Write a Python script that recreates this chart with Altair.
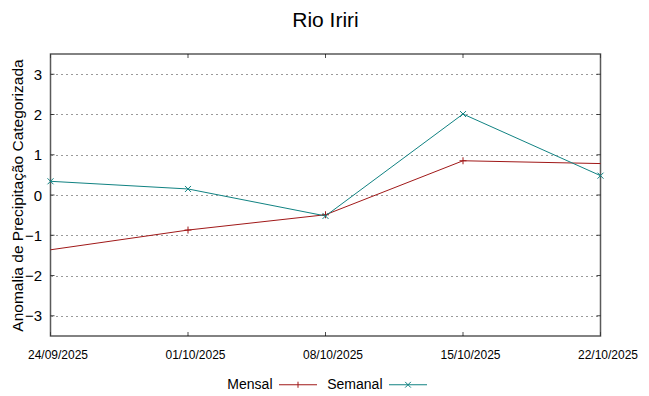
import altair as alt
import pandas as pd

# ---- data ----
series = ["Mensal", "Semanal"]
colors = ["#a01818", "#108282"]

mensal_dates = ["2025-09-17", "2025-10-01", "2025-10-08", "2025-10-15", "2025-10-29"]
mensal_vals = [-1.85, -0.87, -0.49, 0.85, 0.71]

semanal_dates = ["2025-09-24", "2025-10-01", "2025-10-08", "2025-10-15", "2025-10-22"]
semanal_vals = [0.34, 0.15, -0.52, 2.01, 0.48]

x_ticks = ["2025-09-24", "2025-10-01", "2025-10-08", "2025-10-15", "2025-10-22"]
y_ticks = [-3, -2, -1, 0, 1, 2, 3]
y_domain = [-3.5, 3.5]

title_text = "Rio Iriri"
y_title = "Anomalia de Precipitação Categorizada"

SANS = "Liberation Sans, Arial, sans-serif"


def dt(s):
    y, m, d = (int(v) for v in s.split("-"))
    return alt.DateTime(year=y, month=m, date=d, utc=True)


df_m = pd.DataFrame({"data": mensal_dates, "valor": mensal_vals, "serie": "Mensal"})
df_s = pd.DataFrame({"data": semanal_dates, "valor": semanal_vals, "serie": "Semanal"})

x_scale = alt.Scale(type="utc", domain=[dt(x_ticks[0]), dt(x_ticks[-1])])
y_scale = alt.Scale(domain=y_domain, nice=False, zero=False)

x_enc = alt.X(
    "data:T",
    scale=x_scale,
    axis=alt.Axis(
        values=[dt(v) for v in x_ticks],
        labelExpr="utcFormat(datum.value, '%d/%m/%Y')",
        title=None,
        grid=False,
        domain=False,
        ticks=False,
        labelFont=SANS,
        labelFontSize=12,
        labelColor="#000000",
        labelPadding=6,
        translate=7.5,
        labelFlush=False,
        labelOverlap=False,
        labelBound=False,
    ),
)
y_enc = alt.Y(
    "valor:Q",
    scale=y_scale,
    axis=alt.Axis(
        values=y_ticks,
        title=y_title,
        titleFont=SANS,
        titleFontSize=15.5,
        titleFontWeight="normal",
        titleColor="#000000",
        titleX=-25,
        grid=True,
        gridDash=[2, 3],
        gridColor="#9a9a9a",
        gridWidth=1,
        domain=False,
        ticks=False,
        labelFont=SANS,
        labelFontSize=15,
        labelColor="#000000",
        labelPadding=9,
    ),
)

color_scale = alt.Scale(domain=series, range=colors)
legend = alt.Legend(
    title=None,
    orient="none",
    legendX=228,
    legendY=311,
    direction="horizontal",
    labelFont=SANS,
    labelFontSize=14,
    labelColor="#000000",
    labelAlign="right",
    labelOffset={"expr": "-45"},
    symbolSize=1444,
    symbolStrokeWidth=1,
    columnPadding=7,
    symbolType={
        "expr": "datum.value === 'Mensal' ? 'M-1,0H1M0,-0.16V0.16' : 'M-1,0H1M-0.15,-0.15L0.15,0.15M-0.15,0.15L0.15,-0.15'"
    },
)

line_m = alt.Chart(df_m).mark_line(strokeWidth=1, clip=True).encode(
    x=x_enc, y=y_enc, color=alt.Color("serie:N", scale=color_scale, legend=legend)
)
line_s = alt.Chart(df_s).mark_line(strokeWidth=1).encode(
    x=x_enc, y=y_enc, color=alt.Color("serie:N", scale=color_scale, legend=legend)
)
pts_m = alt.Chart(df_m).mark_point(
    shape="M-1,0H1M0,-1V1", filled=False, size=49, strokeWidth=1, clip=True, opacity=1
).encode(x=x_enc, y=y_enc, color=alt.Color("serie:N", scale=color_scale, legend=None))
pts_s = alt.Chart(df_s).mark_point(
    shape="M-1,-1L1,1M-1,1L1,-1", filled=False, size=36, strokeWidth=1, opacity=1
).encode(x=x_enc, y=y_enc, color=alt.Color("serie:N", scale=color_scale, legend=None))

# inward, mirrored tick marks (gnuplot style)
xt = pd.DataFrame(
    [{"data": d, "valor": v} for d in x_ticks for v in y_domain]
)
yt = pd.DataFrame(
    [{"data": d, "valor": v} for d in (x_ticks[0], x_ticks[-1]) for v in y_ticks]
)
ticks_x = alt.Chart(xt).mark_tick(
    orient="vertical", size=8, thickness=1, color="#000000", clip=True
).encode(x=x_enc, y=y_enc)
ticks_y = alt.Chart(yt).mark_tick(
    orient="horizontal", size=8, thickness=1, color="#000000", clip=True
).encode(x=x_enc, y=y_enc)

chart = (
    alt.layer(ticks_x, ticks_y, line_m, line_s, pts_m, pts_s)
    .properties(
        width=550,
        height=282,
        title=alt.TitleParams(
            title_text,
            font=SANS,
            fontSize=21,
            fontWeight="normal",
            color="#000000",
            anchor="middle",
            offset=23,
        ),
        padding={"left": 42.5, "top": 46, "right": 40, "bottom": 60},
        autosize=alt.AutoSizeParams(type="none"),
    )
    .configure_view(stroke="#5a5a5a", strokeWidth=1.5)
)

chart.save("out.html", embed_options={"renderer": "svg", "actions": False})
